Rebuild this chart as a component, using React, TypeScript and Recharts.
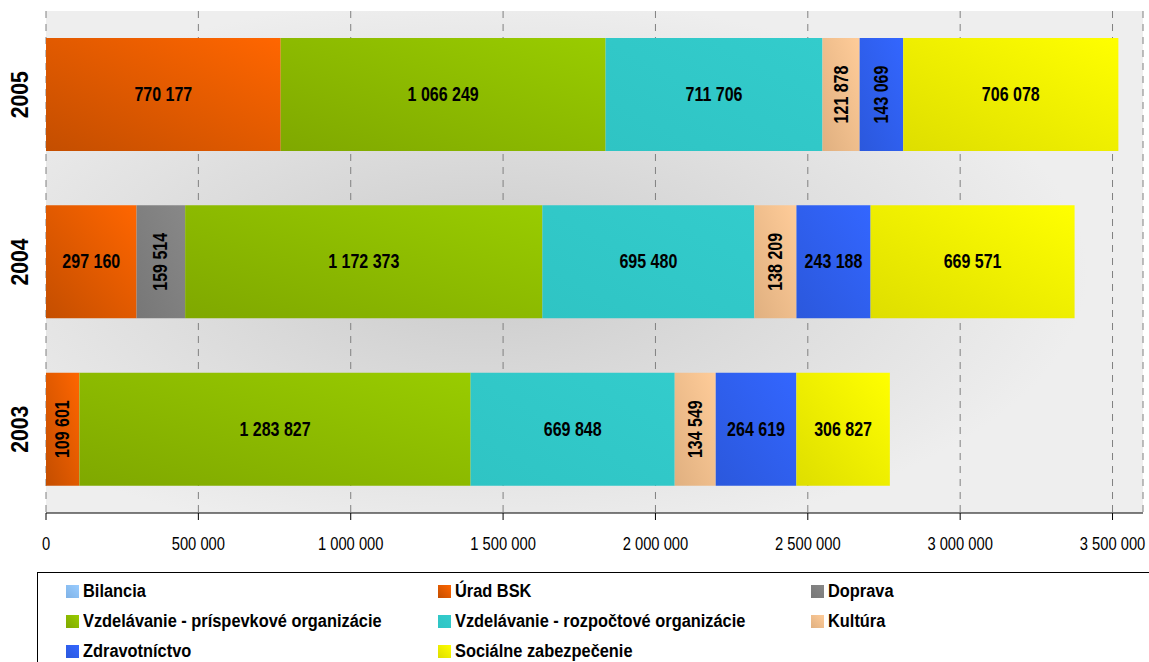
import { BarChart, Bar, XAxis, YAxis, CartesianGrid, LabelList, Legend } from 'recharts';

// values, top bar first
const years = ['2005', '2004', '2003'];
const bilancia = [0, 0, 0];
const uradBsk = [770177, 297160, 109601];
const doprava = [0, 159514, 0];
const vzdPrisp = [1066249, 1172373, 1283827];
const vzdRozp = [711706, 695480, 669848];
const kultura = [121878, 138209, 134549];
const zdravotnictvo = [143069, 243188, 264619];
const socialne = [706078, 669571, 306827];
const xTicks = [0, 500000, 1000000, 1500000, 2000000, 2500000, 3000000, 3500000];

const series = [
  { key: 'bilancia', name: 'Bilancia', values: bilancia, light: '#99ccff', dark: '#7fb2e6' },
  { key: 'uradBsk', name: 'Úrad BSK', values: uradBsk, light: '#ff6600', dark: '#c44e00' },
  { key: 'doprava', name: 'Doprava', values: doprava, light: '#888888', dark: '#777777' },
  { key: 'vzdPrisp', name: 'Vzdelávanie - príspevkové organizácie', values: vzdPrisp, light: '#99cc00', dark: '#7fa800' },
  { key: 'vzdRozp', name: 'Vzdelávanie - rozpočtové organizácie', values: vzdRozp, light: '#33cccc', dark: '#2fc4c4' },
  { key: 'kultura', name: 'Kultúra', values: kultura, light: '#ffcc99', dark: '#e0b080' },
  { key: 'zdravotnictvo', name: 'Zdravotníctvo', values: zdravotnictvo, light: '#3366ff', dark: '#2b58dc' },
  { key: 'socialne', name: 'Sociálne zabezpečenie', values: socialne, light: '#ffff00', dark: '#dede00' },
];

const data = years.map((year, i) => {
  const row: Record<string, string | number> = { year };
  series.forEach((s) => {
    row[s.key] = s.values[i];
  });
  return row;
});

const fmt = (n: number) => String(n).replace(/\B(?=(\d{3})+(?!\d))/g, ' ');

// no Arial Narrow available, so squeeze Liberation Sans horizontally
const font = "'Liberation Sans', Arial, sans-serif";

const renderLabel = (props: any) => {
  const { x, y, width, height, value } = props;
  if (!value) return null;
  const cx = x + width / 2;
  const cy = y + height / 2;
  const rotate = width < 60;
  return (
    <text
      x={0}
      y={0}
      textAnchor="middle"
      dominantBaseline="central"
      transform={`translate(${cx} ${cy})${rotate ? ' rotate(-90)' : ''} scale(0.8 1)`}
      fontFamily={font}
      fontWeight="bold"
      fontSize={20}
      fill="#000"
    >
      {fmt(value)}
    </text>
  );
};

const YearTick = ({ x, y, payload }: any) => (
  <text
    x={0}
    y={0}
    textAnchor="middle"
    dominantBaseline="central"
    transform={`translate(${x - 26} ${y}) rotate(-90) scale(0.88 1)`}
    fontFamily={font}
    fontWeight="bold"
    fontSize={24}
    fill="#000"
  >
    {payload.value}
  </text>
);

const ValueTick = ({ x, y, payload }: any) => (
  <text
    x={0}
    y={0}
    textAnchor="middle"
    transform={`translate(${x} ${y + 30}) scale(0.82 1)`}
    fontFamily={font}
    fontSize={18}
    fill="#000"
  >
    {fmt(payload.value)}
  </text>
);

const LegendBox = () => (
  <div
    style={{
      width: 1120,
      height: 100,
      border: '1px solid #000',
      background: '#fff',
      boxSizing: 'border-box',
      paddingTop: 3,
      fontFamily: font,
      fontWeight: 'bold',
      fontSize: 18,
      display: 'grid',
      gridTemplateColumns: '372px 373px 373px',
      gridAutoRows: '30px',
    }}
  >
    {series.map((s) => (
      <div key={s.key} style={{ display: 'flex', alignItems: 'center', paddingLeft: 28 }}>
        <span
          style={{
            width: 13,
            height: 13,
            marginRight: 4,
            flex: 'none',
            background: `linear-gradient(45deg, ${s.dark}, ${s.light})`,
          }}
        />
        <span style={{ display: 'inline-block', whiteSpace: 'nowrap', transform: 'scaleX(0.91)', transformOrigin: 'left center' }}>
          {s.name}
        </span>
      </div>
    ))}
  </div>
);

export default function App() {
  return (
    <div style={{ position: 'absolute', left: 0, top: 0, width: 1149, height: 662, overflow: 'hidden', background: '#fff' }}>
      <BarChart
        width={1149}
        height={560}
        data={data}
        layout="vertical"
        margin={{ top: 11, right: 6, left: 0, bottom: 7 }}
      >
        <defs>
          <radialGradient id="plotBg" cx="40%" cy="52%" r="55%">
            <stop offset="0%" stopColor="#cbcbcb" />
            <stop offset="55%" stopColor="#dedede" />
            <stop offset="100%" stopColor="#eeeeee" />
          </radialGradient>
          {series.map((s) => (
            <linearGradient key={s.key} id={`g-${s.key}`} x1="0" y1="1" x2="1" y2="0">
              <stop offset="0%" stopColor={s.dark} />
              <stop offset="100%" stopColor={s.light} />
            </linearGradient>
          ))}
        </defs>
        <CartesianGrid
          horizontal={false}
          strokeDasharray="7 6"
          stroke="#808080"
          fill="url(#plotBg)"
          fillOpacity={1}
        />
        <XAxis
          type="number"
          domain={[0, 3600000]}
          ticks={xTicks}
          allowDataOverflow
          height={40}
          tickSize={7}
          tickMargin={0}
          stroke="#000"
          tick={<ValueTick />}
        />
        <YAxis
          type="category"
          dataKey="year"
          width={46}
          axisLine={false}
          tickLine={false}
          tickSize={0}
          tickMargin={0}
          tick={<YearTick />}
        />
        <Legend
          layout="horizontal"
          verticalAlign="middle"
          align="center"
          wrapperStyle={{ left: 37, top: 572, width: 1120 }}
          content={() => <LegendBox />}
        />
        {series.map((s) => (
          <Bar
            key={s.key}
            dataKey={s.key}
            name={s.name}
            stackId="a"
            barSize={113}
            fill={`url(#g-${s.key})`}
            isAnimationActive={false}
          >
            {s.key !== 'bilancia' && <LabelList dataKey={s.key} content={renderLabel} />}
          </Bar>
        ))}
      </BarChart>
    </div>
  );
}
